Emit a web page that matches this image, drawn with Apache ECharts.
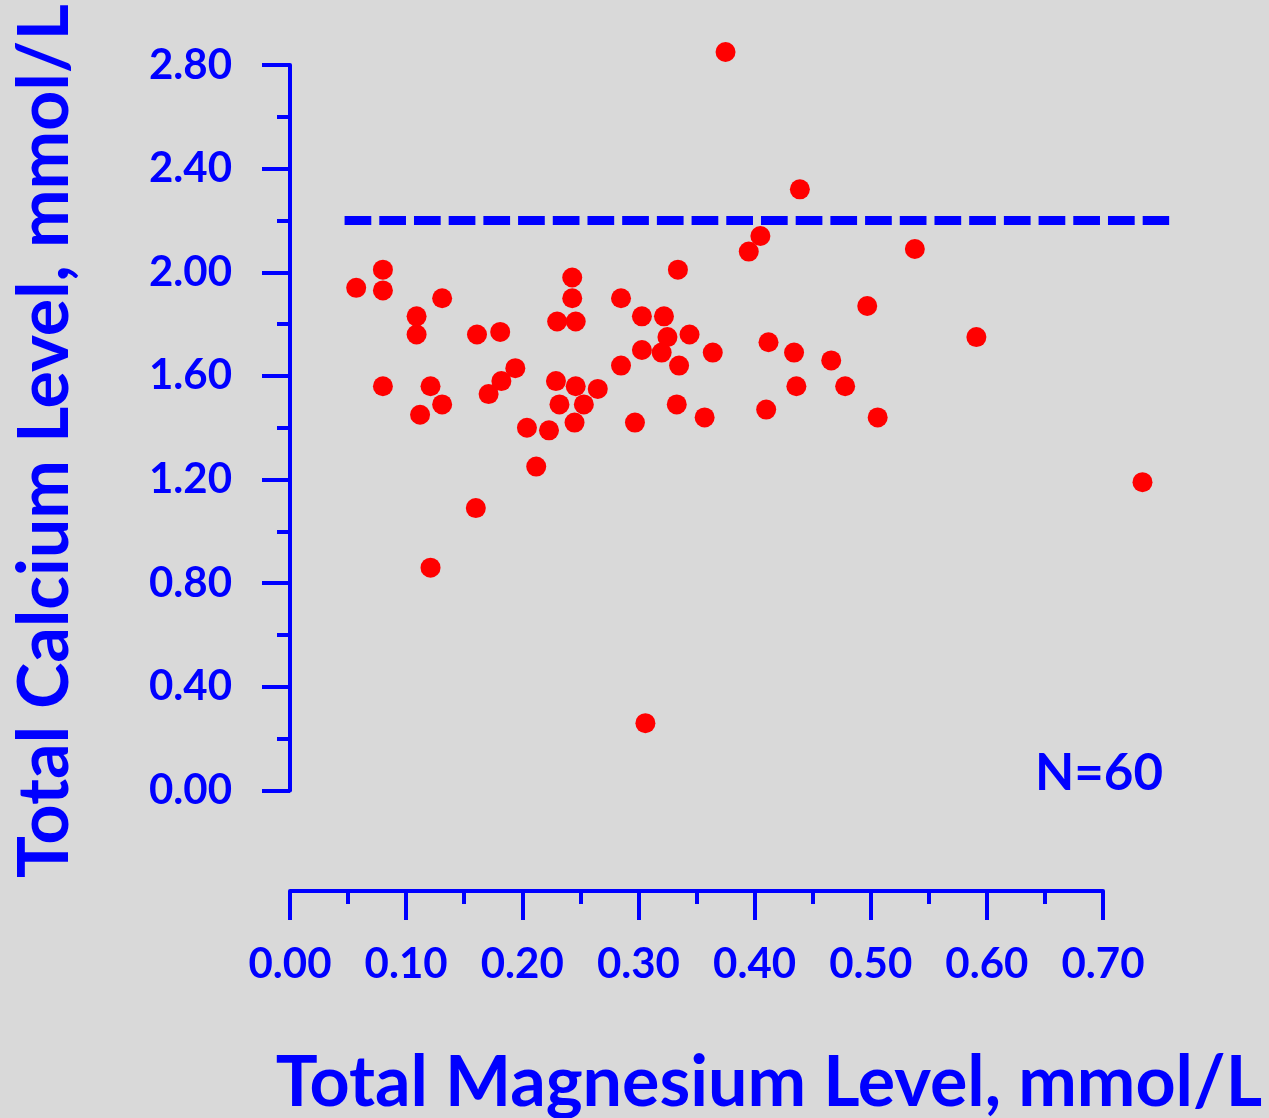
<!DOCTYPE html>
<html>
<head>
<meta charset="utf-8">
<script src="https://cdn.jsdelivr.net/npm/echarts@6/dist/echarts.min.js"></script>
<style>
    html, body { margin: 0; padding: 0; background: #d9d9d9; }
    #chart { width: 1269px; height: 1118px; }
</style>
</head>
<body>
<div id="chart"></div>
<script>
// total magnesium (x) and total calcium (y), mmol/L
const mgValues = [
    0.057, 0.080, 0.080, 0.080, 0.109, 0.109, 0.112, 0.121, 0.121, 0.131,
    0.131, 0.160, 0.161, 0.171, 0.181, 0.182, 0.194, 0.204, 0.212, 0.223,
    0.230, 0.229, 0.232, 0.243, 0.243, 0.246, 0.246, 0.245, 0.253, 0.265,
    0.285, 0.285, 0.297, 0.303, 0.303, 0.306, 0.320, 0.322, 0.325, 0.334,
    0.335, 0.333, 0.344, 0.357, 0.364, 0.375, 0.395, 0.405, 0.410, 0.412,
    0.434, 0.436, 0.439, 0.466, 0.478, 0.497, 0.506, 0.538, 0.591, 0.734
];
const caValues = [
    1.94, 2.01, 1.93, 1.56, 1.83, 1.76, 1.45, 1.56, 0.86, 1.90,
    1.49, 1.09, 1.76, 1.53, 1.77, 1.58, 1.63, 1.40, 1.25, 1.39,
    1.81, 1.58, 1.49, 1.98, 1.90, 1.81, 1.56, 1.42, 1.49, 1.55,
    1.90, 1.64, 1.42, 1.83, 1.70, 0.26, 1.69, 1.83, 1.75, 2.01,
    1.64, 1.49, 1.76, 1.44, 1.69, 2.85, 2.08, 2.14, 1.47, 1.73,
    1.69, 1.56, 2.32, 1.66, 1.56, 1.87, 1.44, 2.09, 1.75, 1.19
];
// dashed reference level for calcium
const refX = [0.047, 0.757];
const refY = [2.20, 2.20];
const xTitle = 'Total Magnesium Level, mmol/L';
const yTitle = 'Total Calcium Level, mmol/L';
const nLabel = 'N=60';

const blue = '#0000ff';
const font = 'Lato, "Open Sans", sans-serif';

let myCharts = echarts.init(document.getElementById('chart'));
let option = {
    backgroundColor: '#d9d9d9',
    animation: false,
    // second grid only carries the dashed line, which runs past the x axis end
    grid: [
        { left: 290, right: 166, top: 65, bottom: 327.5 },
        { left: 290, right: 49.9, top: 65, bottom: 327.5 }
    ],
    xAxis: [
        {
            type: 'value',
            gridIndex: 0,
            min: 0,
            max: 0.7,
            interval: 0.1,
            offset: 100.5,
            splitLine: { show: false },
            axisLine: { show: true, onZero: false, lineStyle: { color: blue, width: 4 } },
            axisTick: { show: true, length: 29, lineStyle: { color: blue, width: 4 } },
            minorTick: { show: true, splitNumber: 2, length: 13, lineStyle: { color: blue, width: 4 } },
            axisLabel: {
                margin: 52,
                color: blue,
                fontSize: 42,
                fontWeight: 'bold',
                fontFamily: font,
                formatter: v => v.toFixed(2)
            }
        },
        { type: 'value', gridIndex: 1, min: 0, max: 0.8, show: false }
    ],
    yAxis: [
        {
            type: 'value',
            gridIndex: 0,
            min: 0,
            max: 2.8,
            interval: 0.4,
            splitLine: { show: false },
            axisLine: { show: true, onZero: false, lineStyle: { color: blue, width: 4 } },
            axisTick: { show: true, length: 28, lineStyle: { color: blue, width: 4 } },
            minorTick: { show: true, splitNumber: 2, length: 13, lineStyle: { color: blue, width: 4 } },
            axisLabel: {
                margin: 58,
                color: blue,
                fontSize: 42,
                fontWeight: 'bold',
                fontFamily: font,
                padding: [0, 0, 6, 0],
                formatter: v => v.toFixed(2)
            }
        },
        { type: 'value', gridIndex: 1, min: 0, max: 2.8, show: false }
    ],
    graphic: [
        {
            type: 'text',
            x: 45,
            y: 878,
            rotation: Math.PI / 2,
            style: {
                text: yTitle,
                fill: blue,
                font: 'bold 70px ' + font,
                textAlign: 'left',
                textVerticalAlign: 'middle'
            }
        },
        {
            type: 'text',
            x: 1262,
            y: 1083,
            style: {
                text: xTitle,
                fill: blue,
                font: 'bold 70px ' + font,
                textAlign: 'right',
                textVerticalAlign: 'middle'
            }
        },
        {
            type: 'text',
            x: 1163,
            y: 774,
            style: {
                text: nLabel,
                fill: blue,
                font: 'bold 51px ' + font,
                textAlign: 'right',
                textVerticalAlign: 'middle'
            }
        }
    ],
    series: [
        {
            type: 'line',
            xAxisIndex: 1,
            yAxisIndex: 1,
            data: refX.map((x, i) => [x, refY[i]]),
            symbol: 'none',
            clip: false,
            silent: true,
            lineStyle: { color: blue, width: 9, type: [26.7, 8] }
        },
        {
            type: 'scatter',
            xAxisIndex: 0,
            yAxisIndex: 0,
            data: mgValues.map((x, i) => [x, caValues[i]]),
            symbolSize: 20,
            clip: false,
            itemStyle: { color: '#ff0000', opacity: 1 }
        }
    ]
};
myCharts.setOption(option);
window.addEventListener('resize', function () {
    myCharts.resize();
});
</script>
</body>
</html>
